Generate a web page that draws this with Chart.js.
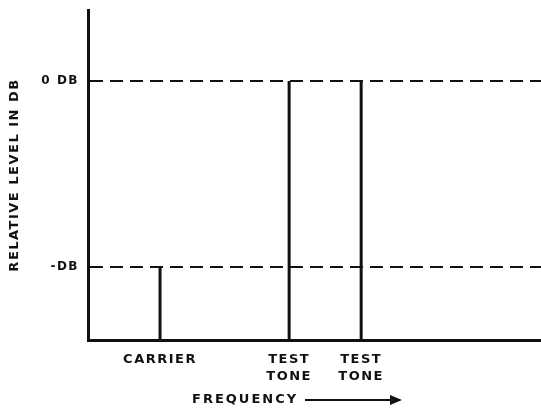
<!DOCTYPE html>
<html>
<head>
<meta charset="utf-8">
<script src="https://cdn.jsdelivr.net/npm/chart.js@4/dist/chart.umd.min.js"></script>
<style>
  html, body { margin: 0; padding: 0; background: #fff; }
  #wrap { width: 541px; height: 415px; }
</style>
</head>
<body>
<div id="wrap"><canvas id="spectrum"></canvas></div>
<script>
// spectral lines: carrier and two test tones
const categories = ['CARRIER', 'TEST TONE', 'TEST TONE'];
const frequencies = [15.9, 44.4, 60.3];
const levels = [-1, 0, 0];

// level axis (relative, 0 = full level)
const yTickValues = [0, -1];
const yTickLabels = ['0 DB', '-DB'];
const yMin = -1.392;
const yMax = 0.382;
const xMin = 0;
const xMax = 100;

const INK = '#111';
const FONT = 'DejaVu Sans';

// spaced-out lettering for every text on the canvas
const letterSpacing = {
    id: 'letterSpacing',
    beforeDraw(chart) {
        chart.ctx.letterSpacing = '1.5px';
    }
};

// "FREQUENCY ---->" caption under the axis labels
const freqCaption = {
    id: 'freqCaption',
    afterDraw(chart) {
        const ctx = chart.ctx;
        const y = 400;
        ctx.save();
        ctx.letterSpacing = '2px';
        ctx.fillStyle = INK;
        ctx.strokeStyle = INK;
        ctx.font = 'bold 13px ' + FONT;
        ctx.textBaseline = 'middle';
        ctx.textAlign = 'left';
        ctx.fillText('FREQUENCY', 192, y);
        ctx.lineWidth = 2;
        ctx.beginPath();
        ctx.moveTo(305, y);
        ctx.lineTo(392, y);
        ctx.stroke();
        ctx.beginPath();
        ctx.moveTo(402, y);
        ctx.lineTo(390, y - 5);
        ctx.lineTo(390, y + 5);
        ctx.closePath();
        ctx.fill();
        ctx.restore();
    }
};

const datasets = frequencies.map((f, i) => ({
    label: categories[i],
    data: [{ x: f, y: yMin }, { x: f, y: levels[i] }],
    showLine: true,
    borderColor: INK,
    borderWidth: 3,
    pointRadius: 0,
    pointHoverRadius: 0
}));

new Chart(document.getElementById('spectrum'), {
    type: 'scatter',
    data: { datasets },
    plugins: [letterSpacing, freqCaption],
    options: {
        responsive: true,
        maintainAspectRatio: false,
        animation: false,
        layout: { padding: { top: 10, right: 0, bottom: 0, left: 0 } },
        plugins: {
            legend: { display: false },
            tooltip: { enabled: false }
        },
        scales: {
            x: {
                type: 'linear',
                min: xMin,
                max: xMax,
                afterBuildTicks(scale) {
                    scale.ticks = frequencies.map(v => ({ value: v }));
                },
                afterFit(scale) {
                    scale.height = 75;
                    scale.paddingLeft = 0;
                    scale.paddingRight = 0;
                },
                grid: { display: false, drawTicks: false },
                border: { display: true, color: INK, width: 3 },
                ticks: {
                    autoSkip: false,
                    maxRotation: 0,
                    padding: 11,
                    color: INK,
                    font: { family: FONT, size: 13, weight: 'bold', lineHeight: 1.3 },
                    callback: (value, index) => categories[index].split(' ')
                }
            },
            y: {
                type: 'linear',
                min: yMin,
                max: yMax,
                afterBuildTicks(scale) {
                    scale.ticks = yTickValues.map(v => ({ value: v }));
                },
                afterFit(scale) {
                    scale.width = 88;
                    scale.paddingTop = 0;
                    scale.paddingBottom = 0;
                },
                grid: { color: INK, lineWidth: 2, drawTicks: false },
                border: { display: true, color: INK, width: 3, dash: [13, 7] },
                ticks: {
                    padding: 9,
                    color: INK,
                    font: { family: FONT, size: 12, weight: 'bold' },
                    callback: (value, index) => yTickLabels[index]
                },
                title: {
                    display: true,
                    text: 'RELATIVE LEVEL IN DB',
                    color: INK,
                    padding: { top: 7, bottom: 0 },
                    font: { family: FONT, size: 13, weight: 'bold' }
                }
            }
        }
    }
});
</script>
</body>
</html>
